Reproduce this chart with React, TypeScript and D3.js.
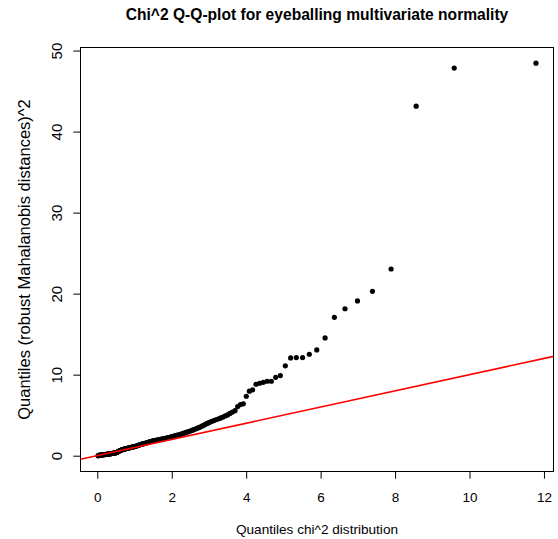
import React from "react";
import * as d3 from "d3";

// Chi^2 (df = 2) quantiles read along the x-axis
const chiQuantiles: number[] = [
  0.006, 0.017, 0.028, 0.039, 0.051, 0.062, 0.074, 0.085, 0.097, 0.108,
  0.120, 0.132, 0.144, 0.156, 0.168, 0.180, 0.192, 0.205, 0.217, 0.229,
  0.242, 0.254, 0.267, 0.280, 0.293, 0.306, 0.319, 0.332, 0.345, 0.358,
  0.371, 0.385, 0.398, 0.412, 0.426, 0.439, 0.453, 0.467, 0.481, 0.496,
  0.510, 0.524, 0.539, 0.553, 0.568, 0.583, 0.598, 0.613, 0.628, 0.643,
  0.659, 0.674, 0.690, 0.705, 0.721, 0.737, 0.753, 0.770, 0.786, 0.803,
  0.819, 0.836, 0.853, 0.870, 0.887, 0.905, 0.922, 0.940, 0.958, 0.976,
  0.994, 1.012, 1.031, 1.050, 1.068, 1.088, 1.107, 1.126, 1.146, 1.166,
  1.186, 1.206, 1.226, 1.247, 1.268, 1.289, 1.310, 1.331, 1.353, 1.375,
  1.397, 1.420, 1.443, 1.466, 1.489, 1.512, 1.536, 1.560, 1.585, 1.609,
  1.634, 1.660, 1.685, 1.711, 1.738, 1.764, 1.791, 1.819, 1.847, 1.875,
  1.903, 1.932, 1.962, 1.992, 2.022, 2.053, 2.084, 2.116, 2.148, 2.181,
  2.214, 2.248, 2.282, 2.317, 2.353, 2.390, 2.427, 2.464, 2.503, 2.542,
  2.582, 2.623, 2.664, 2.707, 2.750, 2.795, 2.840, 2.887, 2.935, 2.983,
  3.033, 3.085, 3.137, 3.191, 3.247, 3.304, 3.363, 3.423, 3.486, 3.550,
  3.617, 3.686, 3.758, 3.832, 3.909, 3.989, 4.072, 4.159, 4.250, 4.345,
  4.445, 4.550, 4.662, 4.779, 4.904, 5.038, 5.181, 5.334, 5.501, 5.683,
  5.883, 6.106, 6.356, 6.642, 6.976, 7.378, 7.880, 8.553, 9.575, 11.772,
];

// Squared robust Mahalanobis distances (sorted)
const robustDist2: number[] = [
  0.05, 0.08, 0.10, 0.11, 0.12, 0.13, 0.14, 0.14, 0.15, 0.16,
  0.17, 0.17, 0.18, 0.19, 0.19, 0.20, 0.21, 0.21, 0.22, 0.23,
  0.24, 0.24, 0.25, 0.26, 0.27, 0.28, 0.29, 0.30, 0.31, 0.32,
  0.33, 0.34, 0.35, 0.36, 0.37, 0.38, 0.40, 0.41, 0.43, 0.45,
  0.47, 0.50, 0.54, 0.58, 0.62, 0.66, 0.70, 0.73, 0.76, 0.79,
  0.81, 0.83, 0.85, 0.87, 0.89, 0.91, 0.93, 0.95, 0.96, 0.98,
  1.00, 1.02, 1.04, 1.06, 1.08, 1.10, 1.12, 1.14, 1.16, 1.18,
  1.20, 1.22, 1.25, 1.28, 1.31, 1.34, 1.37, 1.40, 1.43, 1.46,
  1.49, 1.52, 1.54, 1.57, 1.60, 1.63, 1.66, 1.69, 1.72, 1.75,
  1.78, 1.81, 1.84, 1.87, 1.90, 1.92, 1.94, 1.96, 1.98, 2.00,
  2.02, 2.05, 2.08, 2.10, 2.12, 2.15, 2.18, 2.21, 2.24, 2.27,
  2.30, 2.33, 2.37, 2.41, 2.45, 2.49, 2.53, 2.57, 2.61, 2.65,
  2.69, 2.73, 2.78, 2.84, 2.90, 2.96, 3.02, 3.08, 3.14, 3.21,
  3.28, 3.36, 3.44, 3.52, 3.60, 3.70, 3.80, 3.92, 4.04, 4.14,
  4.24, 4.34, 4.43, 4.53, 4.62, 4.72, 4.84, 4.97, 5.10, 5.28,
  5.45, 5.62, 6.13, 6.37, 6.46, 7.40, 8.02, 8.19, 8.88, 9.00,
  9.12, 9.25, 9.25, 9.74, 9.95, 11.15, 12.13, 12.17, 12.17, 12.58,
  13.12, 14.60, 17.14, 18.20, 19.16, 20.35, 23.10, 43.20, 47.90, 48.50,
];

const xTicks: number[] = [0, 2, 4, 6, 8, 10, 12];
const yTicks: number[] = [0, 10, 20, 30, 40, 50];

// reference line y = a + b x
const lineIntercept = 0.08;
const lineSlope = 1.0;

const W = 558;
const H = 539;
const left = 80.5;
const right = 553.5;
const top = 47.5;
const bottom = 471.5;
const FONT = "'Liberation Sans', Arial, Helvetica, sans-serif";

export default function App() {
  const xMin = d3.min(chiQuantiles)!;
  const xMax = d3.max(chiQuantiles)!;
  const yMin = d3.min(robustDist2)!;
  const yMax = d3.max(robustDist2)!;
  const xr = xMax - xMin;
  const yr = yMax - yMin;
  const x = d3.scaleLinear().domain([xMin - 0.04 * xr, xMax + 0.04 * xr]).range([left, right]);
  const y = d3.scaleLinear().domain([yMin - 0.04 * yr, yMax + 0.04 * yr]).range([bottom, top]);

  const [dx0, dx1] = x.domain();
  const lineGen = d3
    .line<number>()
    .x((d) => x(d))
    .y((d) => y(lineIntercept + lineSlope * d));

  const pts = chiQuantiles.map((v, i) => ({ x: v, y: robustDist2[i] }));

  return (
    <svg
      width={W}
      height={H}
      style={{ position: "absolute", left: 0, top: 0, background: "#fff" }}
      fontFamily={FONT}
    >
      <rect x={0} y={0} width={W} height={H} fill="#fff" />
      <defs>
        <clipPath id="plotclip">
          <rect x={left} y={top} width={right - left} height={bottom - top} />
        </clipPath>
      </defs>
      <text
        x={(left + right) / 2}
        y={20}
        textAnchor="middle"
        fontWeight="bold"
        fontSize={15.6}
        fill="#000"
      >
        Chi^2 Q-Q-plot for eyeballing multivariate normality
      </text>

      <g>
        {pts.map((p, i) => (
          <circle key={i} cx={x(p.x)} cy={y(p.y)} r={2.6} fill="#000" />
        ))}
      </g>

      <path
        d={lineGen([dx0, dx1]) || ""}
        stroke="#ff0000"
        strokeWidth={1.6}
        fill="none"
        clipPath="url(#plotclip)"
      />

      <rect
        x={left}
        y={top}
        width={right - left}
        height={bottom - top}
        fill="none"
        stroke="#000"
        strokeWidth={1}
      />

      {/* x axis */}
      <line x1={x(xTicks[0])} x2={x(xTicks[xTicks.length - 1])} y1={bottom} y2={bottom} stroke="#000" />
      {xTicks.map((t) => (
        <g key={t}>
          <line x1={x(t)} x2={x(t)} y1={bottom} y2={bottom + 7.2} stroke="#000" />
          <text x={x(t)} y={501.5} textAnchor="middle" fontSize={13.5} fill="#000">
            {t}
          </text>
        </g>
      ))}
      <text x={(left + right) / 2} y={534} textAnchor="middle" fontSize={13.6} fill="#000">
        Quantiles chi^2 distribution
      </text>

      {/* y axis */}
      <line x1={left} x2={left} y1={y(yTicks[0])} y2={y(yTicks[yTicks.length - 1])} stroke="#000" />
      {yTicks.map((t) => (
        <g key={t}>
          <line x1={left} x2={left - 7.2} y1={y(t)} y2={y(t)} stroke="#000" />
          <text
            transform={`translate(61.5,${y(t)}) rotate(-90)`}
            textAnchor="middle"
            fontSize={15}
            fill="#000"
          >
            {t}
          </text>
        </g>
      ))}
      <text
        transform={`translate(30,${(top + bottom) / 2}) rotate(-90)`}
        textAnchor="middle"
        fontSize={16.5}
        fill="#000"
      >
        Quantiles (robust Mahalanobis distances)^2
      </text>
    </svg>
  );
}
